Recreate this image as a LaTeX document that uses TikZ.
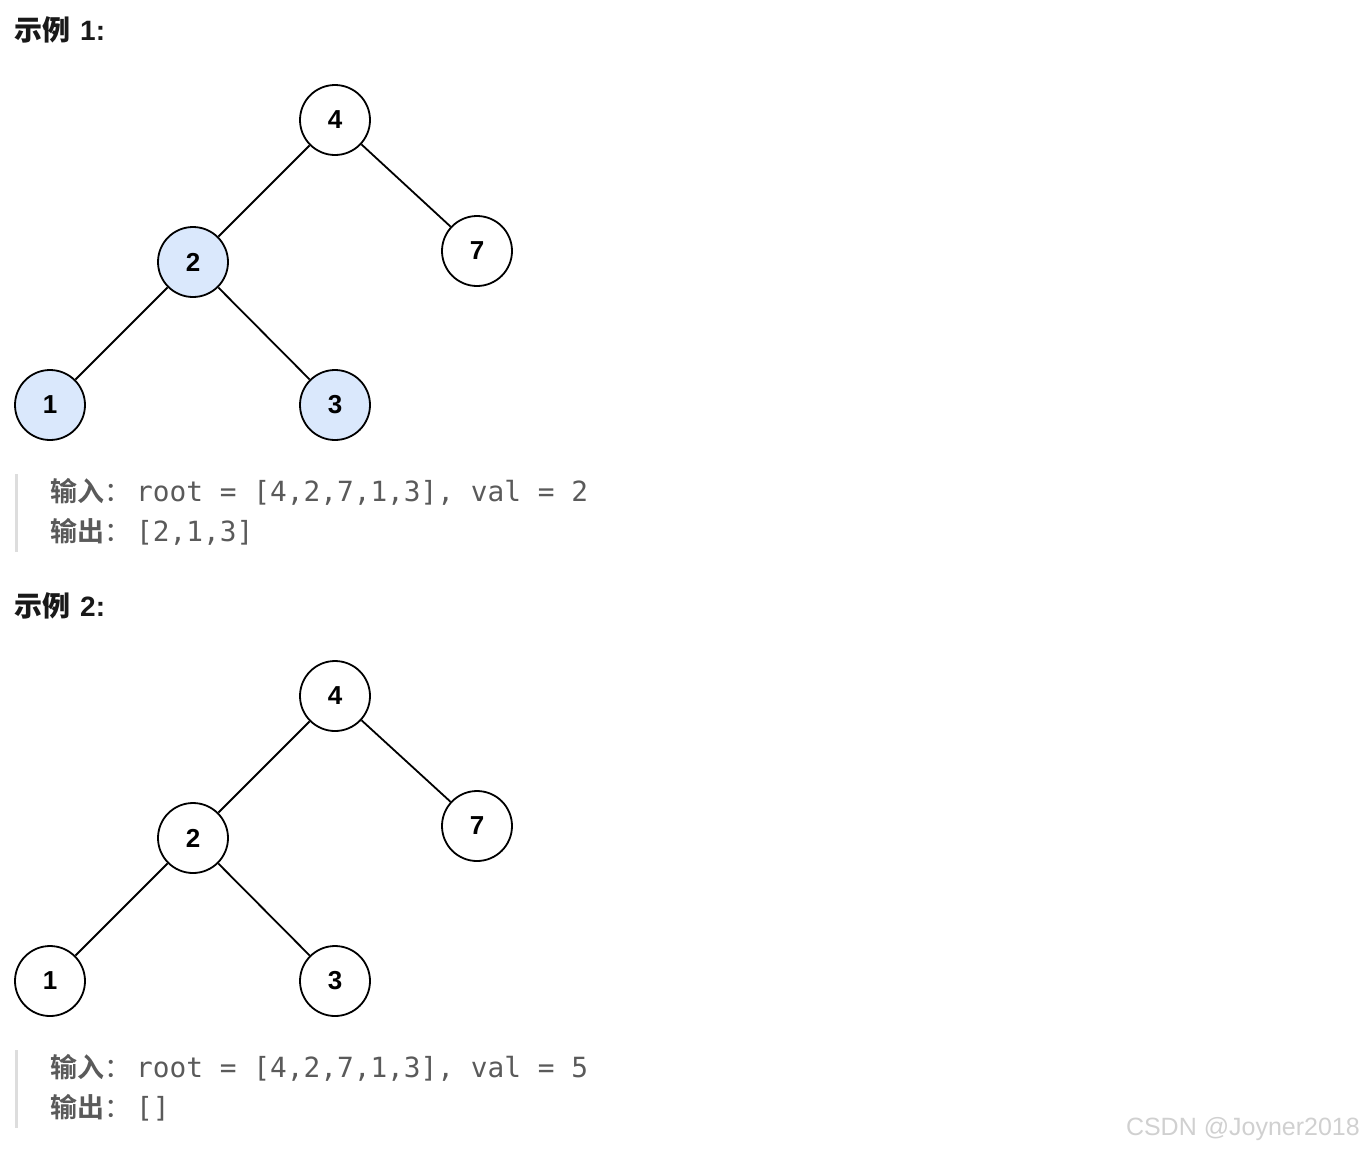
\documentclass[tikz,border=0pt]{standalone}
\usepackage{fontspec}
\setmainfont{Liberation Sans}
\newfontfamily\cjk{Noto Sans CJK SC Bold}
\newfontfamily\cjkr{Noto Sans CJK SC}
\newfontfamily\cjkb{Noto Sans CJK SC Bold}
\newfontfamily\monof{DejaVu Sans Mono}
\definecolor{nodeblue}{HTML}{DAE8FC}
\definecolor{txtgray}{HTML}{5A5A5A}
\definecolor{bargray}{HTML}{DDDDDD}
\definecolor{wm}{HTML}{D0D0D0}
\tikzset{
  tn/.style={circle,draw=black,line width=1.8pt,minimum size=70pt,inner sep=0pt,fill=white,font=\fontsize{26}{26}\selectfont\bfseries},
  hl/.style={fill=nodeblue},
  edge/.style={line width=1.8pt,black},
  title/.style={anchor=west,inner sep=0pt,font=\fontsize{28}{28}\selectfont\bfseries,text=black!90},
  code/.style={anchor=west,inner sep=0pt,text=txtgray},
  bar/.style={fill=bargray,draw=none}
}
\newcommand{\cn}[1]{{\cjk\fontsize{27}{27}\selectfont #1}{\cjkr\fontsize{27}{27}\selectfont ：}}
\newcommand{\mo}[1]{{\monof\fontsize{27.8}{27.8}\selectfont #1}}
\begin{document}
\begin{tikzpicture}[x=1pt,y=-1pt]
\useasboundingbox (0,0) rectangle (1364,1152);
% Example 1
\node[title] (t1) at (14,30) {{\cjkb 示例}\hspace{10pt}1:};
\node[tn] (a4) at (335,120) {4};
\node[tn] (a7) at (477,251) {7};
\node[tn,hl] (a2) at (193,262) {2};
\node[tn,hl] (a1) at (50,405) {1};
\node[tn,hl] (a3) at (335,405) {3};
\draw[edge] (a4) -- (a2);
\draw[edge] (a4) -- (a7);
\draw[edge] (a2) -- (a1);
\draw[edge] (a2) -- (a3);
\node[bar,minimum width=3pt,minimum height=78pt,inner sep=0pt] (b1) at (16.5,513) {};
\node[code] (i1) at (50,492) {\cn{输入}\hspace{5pt}\mo{root = [4,2,7,1,3], val = 2}};
\node[code] (o1) at (50,532) {\cn{输出}\hspace{5pt}\mo{[2,1,3]}};
% Example 2
\node[title] (t2) at (14,606) {{\cjkb 示例}\hspace{10pt}2:};
\node[tn] (b4) at (335,696) {4};
\node[tn] (b7) at (477,826) {7};
\node[tn] (b2) at (193,838) {2};
\node[tn] (b1n) at (50,981) {1};
\node[tn] (b3) at (335,981) {3};
\draw[edge] (b4) -- (b2);
\draw[edge] (b4) -- (b7);
\draw[edge] (b2) -- (b1n);
\draw[edge] (b2) -- (b3);
\node[bar,minimum width=3pt,minimum height=78pt,inner sep=0pt] (b2bar) at (16.5,1089) {};
\node[code] (i2) at (50,1068) {\cn{输入}\hspace{5pt}\mo{root = [4,2,7,1,3], val = 5}};
\node[code] (o2) at (50,1108) {\cn{输出}\hspace{5pt}\mo{[]}};
% watermark
\node[anchor=east,inner sep=0pt,text=wm,font=\fontsize{25}{25}\selectfont] (wmk) at (1360,1129) {CSDN @Joyner2018};
\end{tikzpicture}
\end{document}
